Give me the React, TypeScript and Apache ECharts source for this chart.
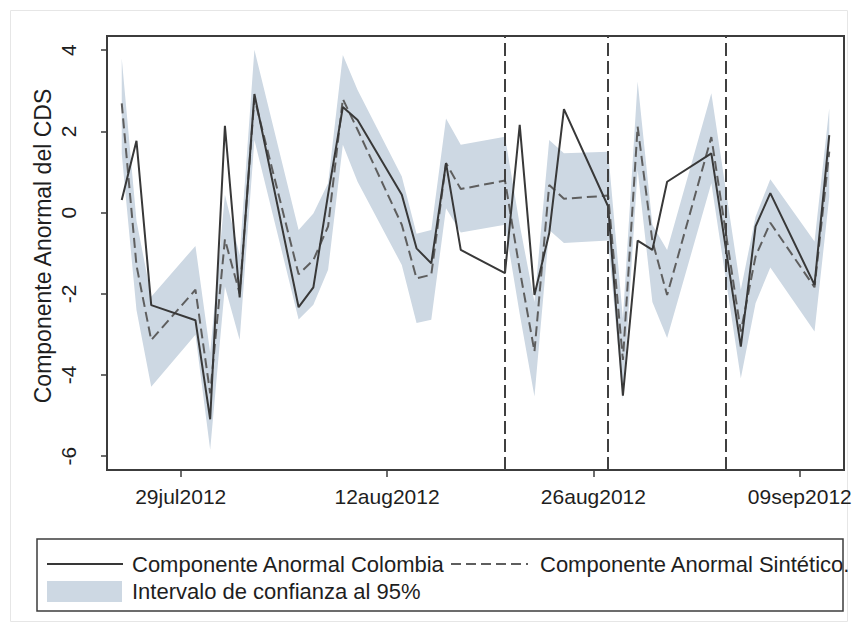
import React, { useEffect, useRef } from "react";
import * as echarts from "echarts";

// Trading days in the event window
const dates = [
  "2012-07-25", "2012-07-26", "2012-07-27", "2012-07-30", "2012-07-31",
  "2012-08-01", "2012-08-02", "2012-08-03", "2012-08-06", "2012-08-07",
  "2012-08-08", "2012-08-09", "2012-08-10", "2012-08-13", "2012-08-14",
  "2012-08-15", "2012-08-16", "2012-08-17", "2012-08-20", "2012-08-21",
  "2012-08-22", "2012-08-23", "2012-08-24", "2012-08-27", "2012-08-28",
  "2012-08-29", "2012-08-30", "2012-08-31", "2012-09-03", "2012-09-05",
  "2012-09-06", "2012-09-07", "2012-09-10", "2012-09-11",
];

// Abnormal CDS component, Colombia
const colombia = [
  0.31, 1.77, -2.28, -2.65, -5.09, 2.14, -2.09, 2.92, -2.33, -1.84,
  0.45, 2.6, 2.28, 0.44, -0.88, -1.25, 1.22, -0.92, -1.49, 2.16,
  -2.03, -0.51, 2.55, 0.15, -4.51, -0.69, -0.92, 0.76, 1.46, -3.3,
  -0.34, 0.48, -1.78, 1.91,
];

// Abnormal CDS component, synthetic control
const sintetico = [
  2.69, -1.3, -3.14, -1.9, -4.45, -0.66, -1.99, 2.82, -1.52, -1.17,
  -0.34, 2.8, 2.04, -0.3, -1.62, -1.53, 1.22, 0.58, 0.79, -1.41,
  -3.42, 0.68, 0.34, 0.42, -3.63, 2.12, -0.7, -2.03, 1.86, -2.93,
  -1.08, -0.25, -1.84, 1.5,
];

// 95% confidence interval bounds
const ciUpper = [
  3.8, -0.2, -2.07, -0.82, -3.45, 0.44, -1.05, 4.01, -0.43, -0.02,
  0.72, 3.88, 3.02, 0.89, -0.52, -0.43, 2.32, 1.67, 1.87, -0.3,
  -2.2, 1.79, 1.46, 1.5, -2.6, 3.23, -0.3, -0.92, 2.94, -1.9,
  -0.1, 0.82, -0.71, 2.57,
];
const ciLower = [
  1.45, -2.4, -4.29, -3.01, -5.84, -1.82, -3.14, 1.79, -2.63, -2.27,
  -1.41, 1.67, 0.76, -1.29, -2.72, -2.64, 0.11, -0.49, -0.3, -2.5,
  -4.53, -0.43, -0.75, -0.69, -4.6, 1.05, -2.2, -3.09, 0.72, -4.08,
  -2.23, -1.35, -2.93, 0.39,
];

// Event dates marked with vertical lines
const eventDates = ["2012-08-20", "2012-08-27", "2012-09-04"];

// Axis ticks and range
const xTicks = ["2012-07-29", "2012-08-12", "2012-08-26", "2012-09-09"];
const xRange = ["2012-07-24", "2012-09-12"];
const yTicks = [-6, -4, -2, 0, 2, 4];
const yRange = [-6.34, 4.35];

const MONTHS = ["jan", "feb", "mar", "apr", "may", "jun", "jul", "aug", "sep", "oct", "nov", "dec"];
const toDay = (s: string) => {
  const [y, m, d] = s.split("-").map(Number);
  return Date.UTC(y, m - 1, d) / 86400000;
};
const fmtDay = (v: number) => {
  const dt = new Date(Math.round(v) * 86400000);
  const dd = String(dt.getUTCDate()).padStart(2, "0");
  return dd + MONTHS[dt.getUTCMonth()] + dt.getUTCFullYear();
};

const FONT = "'Liberation Sans', Arial, Helvetica, sans-serif";
const TEXT = "#1e1e1e";
const FRAME = "#3c3c3c";
const BAND = "#cdd8e3";
const LINE = "#383838";
const DASH = "#5e5e5e";

export default function App() {
  const ref = useRef<HTMLDivElement>(null);

  useEffect(() => {
    if (!ref.current) return;
    const chart = echarts.init(ref.current, undefined, { renderer: "svg" });
    const xs = dates.map(toDay);

    const option: any = {
      animation: false,
      backgroundColor: "#ffffff",
      textStyle: { fontFamily: FONT },
      grid: {
        left: 107,
        right: 14,
        top: 36,
        bottom: 162,
        show: true,
        borderColor: FRAME,
        borderWidth: 2,
        backgroundColor: "transparent",
      },
      xAxis: {
        type: "value",
        min: toDay(xRange[0]),
        max: toDay(xRange[1]),
        splitLine: { show: false },
        axisLine: { show: true, onZero: false, lineStyle: { color: FRAME, width: 2 } },
        axisTick: {
          show: true,
          length: 7,
          customValues: xTicks.map(toDay),
          lineStyle: { color: FRAME, width: 1.5 },
        },
        axisLabel: {
          customValues: xTicks.map(toDay),
          formatter: (v: number) => fmtDay(v),
          fontSize: 21,
          color: TEXT,
          fontFamily: FONT,
          margin: 16,
        },
      },
      yAxis: {
        type: "value",
        min: yRange[0],
        max: yRange[1],
        splitLine: { show: false },
        axisLine: { show: true, onZero: false, lineStyle: { color: FRAME, width: 2 } },
        axisTick: {
          show: true,
          length: 6,
          customValues: yTicks,
          lineStyle: { color: FRAME, width: 1.5 },
        },
        axisLabel: {
          customValues: yTicks,
          rotate: 90,
          fontSize: 21,
          color: TEXT,
          fontFamily: FONT,
          margin: 28,
        },
      },
      series: [
        {
          name: "Intervalo de confianza al 95%",
          type: "custom",
          silent: true,
          z: 1,
          data: xs.map((x, i) => [x, ciLower[i], ciUpper[i]]),
          renderItem: (params: any, api: any) => {
            if (params.dataIndex !== 0) return null;
            const top = xs.map((x, i) => api.coord([x, ciUpper[i]]));
            const bottom = xs.map((x, i) => api.coord([x, ciLower[i]])).reverse();
            return {
              type: "polygon",
              shape: { points: top.concat(bottom) },
              style: { fill: BAND },
            };
          },
        },
        {
          name: "Componente Anormal Sintético.",
          type: "line",
          z: 3,
          data: xs.map((x, i) => [x, sintetico[i]]),
          showSymbol: false,
          symbol: "none",
          lineStyle: { color: DASH, width: 2, type: [10, 5] },
        },
        {
          name: "Componente Anormal Colombia",
          type: "line",
          z: 4,
          data: xs.map((x, i) => [x, colombia[i]]),
          showSymbol: false,
          symbol: "none",
          lineStyle: { color: LINE, width: 2 },
          markLine: {
            silent: true,
            symbol: "none",
            label: { show: false },
            lineStyle: { color: "#404040", width: 2, type: [13, 5] },
            data: eventDates.map((d) => ({ xAxis: toDay(d) })),
          },
        },
      ],
      graphic: [
        {
          type: "rect",
          silent: true,
          z: -10,
          shape: { x: 10.5, y: 10.5, width: 837, height: 611 },
          style: { fill: "none", stroke: "#e6e6e6", lineWidth: 1 },
        },
        {
          type: "text",
          silent: true,
          x: 43,
          y: 246,
          rotation: Math.PI / 2,
          style: {
            text: "Componente Anormal del CDS",
            fontSize: 23,
            fontFamily: FONT,
            fill: TEXT,
            align: "center",
            verticalAlign: "middle",
          },
        },
        {
          type: "rect",
          silent: true,
          shape: { x: 37, y: 539, width: 806, height: 72 },
          style: { fill: "#ffffff", stroke: FRAME, lineWidth: 1.5 },
        },
        {
          type: "line",
          silent: true,
          shape: { x1: 47, y1: 564, x2: 123, y2: 564 },
          style: { stroke: LINE, lineWidth: 2 },
        },
        {
          type: "text",
          silent: true,
          x: 132,
          y: 564,
          style: {
            text: "Componente Anormal Colombia",
            fontSize: 22,
            fontFamily: FONT,
            fill: TEXT,
            verticalAlign: "middle",
          },
        },
        {
          type: "line",
          silent: true,
          shape: { x1: 451, y1: 564, x2: 528, y2: 564 },
          style: { stroke: DASH, lineWidth: 2, lineDash: [10, 5] },
        },
        {
          type: "text",
          silent: true,
          x: 540,
          y: 564,
          style: {
            text: "Componente Anormal Sintético.",
            fontSize: 22,
            fontFamily: FONT,
            fill: TEXT,
            verticalAlign: "middle",
          },
        },
        {
          type: "rect",
          silent: true,
          shape: { x: 47, y: 581, width: 75, height: 21 },
          style: { fill: BAND },
        },
        {
          type: "text",
          silent: true,
          x: 132,
          y: 591,
          style: {
            text: "Intervalo de confianza al 95%",
            fontSize: 22,
            fontFamily: FONT,
            fill: TEXT,
            verticalAlign: "middle",
          },
        },
      ],
    };

    chart.setOption(option);
    return () => chart.dispose();
  }, []);

  return (
    <div
      ref={ref}
      style={{ position: "absolute", left: 0, top: 0, width: 858, height: 632 }}
    />
  );
}
